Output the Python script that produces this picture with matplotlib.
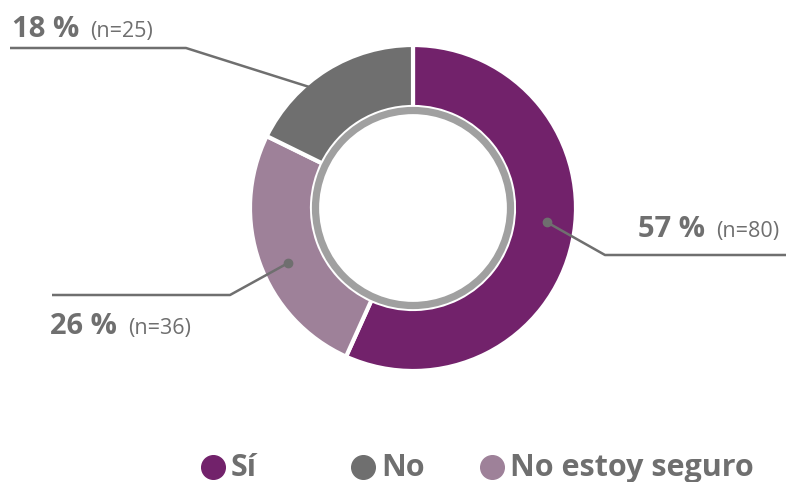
import numpy as np
import matplotlib
matplotlib.use("Agg")
import matplotlib.pyplot as plt
from matplotlib.patches import Circle

categories = ["Sí", "No estoy seguro", "No"]
counts = [80, 36, 25]
percents = [57, 26, 18]
colors = ["#72226B", "#9E8199", "#6F6F6F"]
legend_order = ["Sí", "No", "No estoy seguro"]

TXT = "#6F6F6F"
W, H = 786, 482
fig = plt.figure(figsize=(W / 100, H / 100), dpi=100)
ax = fig.add_axes([0, 0, 1, 1])

cx, cy = 413, H - 208
R_out, R_in = 163, 101
wedges, _ = ax.pie(counts, colors=colors, startangle=90, counterclock=False,
                   radius=R_out, center=(cx, cy),
                   wedgeprops=dict(width=R_out - R_in, edgecolor="white", linewidth=3))
ring = Circle((cx, cy), R_in - 3.5, facecolor="white", edgecolor="#A0A0A0", linewidth=5.2, zorder=5)
ax.add_patch(ring)

ax.set_xlim(0, W)
ax.set_ylim(0, H)
ax.set_aspect("equal")
ax.axis("off")

layout = {
    "Sí": dict(r=135, da=6, elbow=(605, 255), end=786, lab=(638, 237)),
    "No estoy seguro": dict(r=137, da=4, elbow=(230, 295), end=52, lab=(50, 334)),
    "No": dict(r=135, da=2, elbow=(186, 48), end=10, lab=(12, 37)),
}
fp_b = dict(family=["Open Sans", "DejaVu Sans"], fontweight="bold")
fp_l = dict(family=["Open Sans", "DejaVu Sans"], fontweight="normal")
for w, cat, n, p in zip(wedges, categories, counts, percents):
    L = layout[cat]
    ang = np.deg2rad((w.theta1 + w.theta2) / 2 + L["da"])
    dx, dy = cx + L["r"] * np.cos(ang), cy + L["r"] * np.sin(ang)
    ex, ey = L["elbow"][0], H - L["elbow"][1]
    ax.plot([dx, ex, L["end"]], [dy, ey, ey], color=TXT, lw=1.8, zorder=6,
            solid_capstyle="butt")
    ax.plot([dx], [dy], "o", color=TXT, ms=6, zorder=7)
    lx, ly = L["lab"][0], H - L["lab"][1]
    t = ax.text(lx, ly, f"{p} %", color=TXT, fontsize=21, va="baseline", ha="left", **fp_b)
    fig.canvas.draw()
    bb = t.get_window_extent()
    x2 = ax.transData.inverted().transform((bb.x1, bb.y0))[0]
    ax.text(x2 + 11, ly, f"(n={n})", color=TXT, fontsize=15.5, va="baseline", ha="left", **fp_l)

leg_x = {"Sí": 213, "No": 363, "No estoy seguro": 492}
col = dict(zip(categories, colors))
for name in legend_order:
    x = leg_x[name]
    ax.plot([x], [H - 467], "o", color=col[name], ms=17, zorder=7)
    ax.text(x + 18, H - 476, name, color=TXT, fontsize=22, va="baseline", ha="left", **fp_b)

fig.savefig("out.png", dpi=100)
